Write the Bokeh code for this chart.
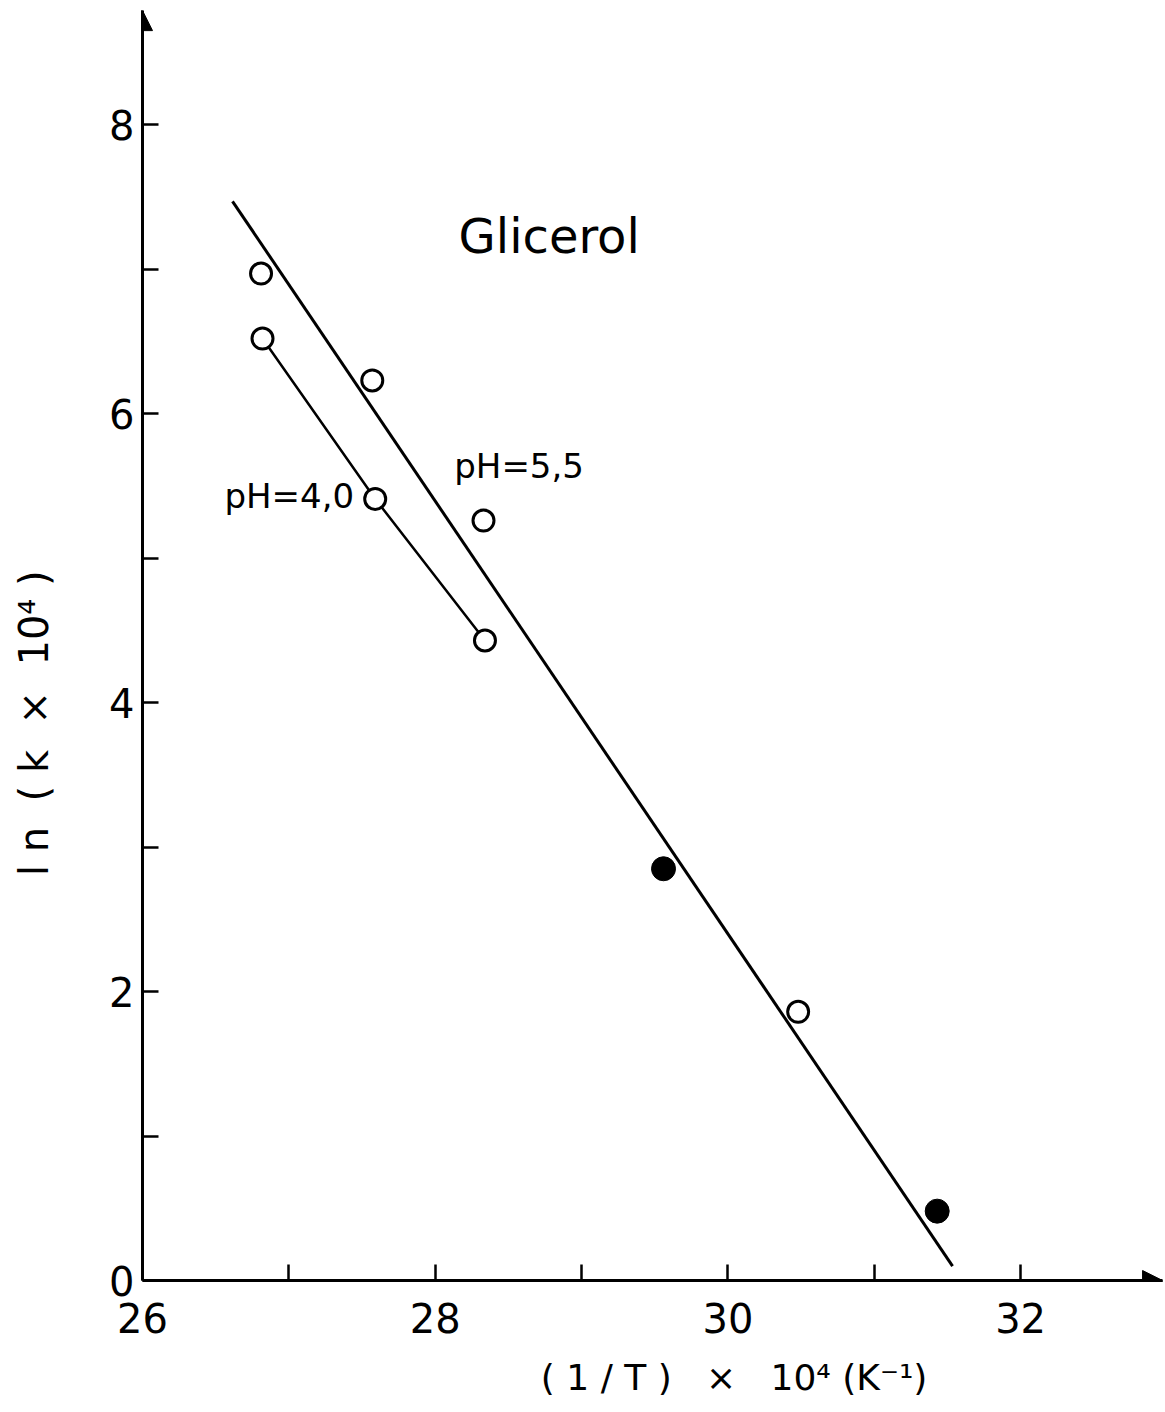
from bokeh.core.properties import value
from bokeh.embed import file_html
from bokeh.models import Arrow, FixedTicker, NormalHead, Range1d
from bokeh.plotting import figure
from bokeh.resources import INLINE

# Arrhenius plot for glycerol: ln(k x 10^4) against (1/T) x 10^4
ph55_open_x = [26.81, 27.57, 28.33, 30.48]
ph55_open_y = [6.97, 6.23, 5.26, 1.86]
ph55_filled_x = [29.56, 31.43]
ph55_filled_y = [2.85, 0.48]
ph40_x = [26.82, 27.59, 28.34]
ph40_y = [6.52, 5.41, 4.43]
fit55_x = [26.615, 31.535]
fit55_y = [7.47, 0.10]

x_major = [26, 28, 30, 32]
x_minor = [27, 29, 31]
y_major = [0, 2, 4, 6, 8]
y_minor = [1, 3, 5, 7]

X_START, X_END = 26.0, 32.99
Y_START, Y_END = 0.0, 8.86
X_TIP, Y_TIP = 32.97, 8.79

FONT = "DejaVu Sans"
NB = "\u00a0"

# axis titles; non-breaking spaces give the wide letter spacing and
# push the visible text off the frame centre
x_title = NB * 14 + NB.join(["(", "1", "/", "T", ")"]) + NB * 3 + "×" + NB * 3 + "10⁴" + NB + "(K⁻¹)"
y_title = NB.join(["l", "n"]) + NB * 2 + "(" + NB + "k" + NB * 2 + "×" + NB * 2 + "10⁴" + NB + ")" + NB * 13

p = figure(
    width=1165, height=1412,
    x_range=Range1d(X_START, X_END), y_range=Range1d(Y_START, Y_END),
    output_backend="svg", toolbar_location=None,
    min_border_left=142, min_border_right=0, min_border_top=0, min_border_bottom=132,
)
p.outline_line_color = None
p.grid.visible = False
p.background_fill_color = "white"
p.border_fill_color = "white"

p.xaxis.ticker = FixedTicker(ticks=x_major, minor_ticks=x_minor)
p.yaxis.ticker = FixedTicker(ticks=y_major, minor_ticks=y_minor)
p.xaxis.bounds = (X_START, X_TIP)
p.yaxis.bounds = (Y_START, Y_TIP)
for ax in (p.xaxis, p.yaxis):
    ax.axis_line_width = 3
    ax.axis_line_color = "black"
    ax.major_tick_in = 16
    ax.major_tick_out = 0
    ax.minor_tick_in = 16
    ax.minor_tick_out = 0
    ax.major_tick_line_width = 2.5
    ax.minor_tick_line_width = 2.5
    ax.major_tick_line_color = "black"
    ax.minor_tick_line_color = "black"
    ax.major_label_text_font = FONT
    ax.major_label_text_font_size = "40px"
    ax.major_label_text_color = "black"
    ax.axis_label_text_font = FONT
    ax.axis_label_text_font_style = "normal"
    ax.axis_label_text_color = "black"
p.xaxis.major_label_standoff = 22
p.yaxis.major_label_standoff = 8

p.xaxis.axis_label = x_title
p.xaxis.axis_label_text_font_size = "36px"
p.xaxis.axis_label_standoff = 21
p.yaxis.axis_label = y_title
p.yaxis.axis_label_text_font_size = "40px"
p.yaxis.axis_label_standoff = 49

# arrow heads at the ends of both axes
p.add_layout(Arrow(end=NormalHead(size=20, fill_color="black", line_color="black"),
                   x_start=X_TIP - 0.15, y_start=Y_START, x_end=X_TIP, y_end=Y_START,
                   line_width=3, line_color="black"))
p.add_layout(Arrow(end=NormalHead(size=20, fill_color="black", line_color="black"),
                   x_start=X_START, y_start=Y_TIP - 0.15, x_end=X_START, y_end=Y_TIP,
                   line_width=3, line_color="black"))

# regression line (pH 5,5) and joined points (pH 4,0)
p.line(fit55_x, fit55_y, line_width=3, line_color="black")
p.line(ph40_x, ph40_y, line_width=2.5, line_color="black")

p.scatter(ph55_open_x, ph55_open_y, marker="circle", size=21,
          fill_color="white", line_color="black", line_width=3)
p.scatter(ph40_x, ph40_y, marker="circle", size=21,
          fill_color="white", line_color="black", line_width=3)
p.scatter(ph55_filled_x, ph55_filled_y, marker="circle", size=24,
          fill_color="black", line_color="black", line_width=1)

# in-plot annotations
p.text(x=[28.16], y=[7.23], text=["Glicerol"], text_font=value(FONT),
       text_font_size="48px", text_baseline="alphabetic", text_align="left",
       text_color="black")
p.text(x=[28.13, 26.56], y=[5.64, 5.43], text=["pH=5,5", "pH=4,0"],
       text_font=value(FONT), text_font_size="34px", text_baseline="alphabetic",
       text_align="left", text_color="black")

open("out.html", "w").write(file_html(p, INLINE))
